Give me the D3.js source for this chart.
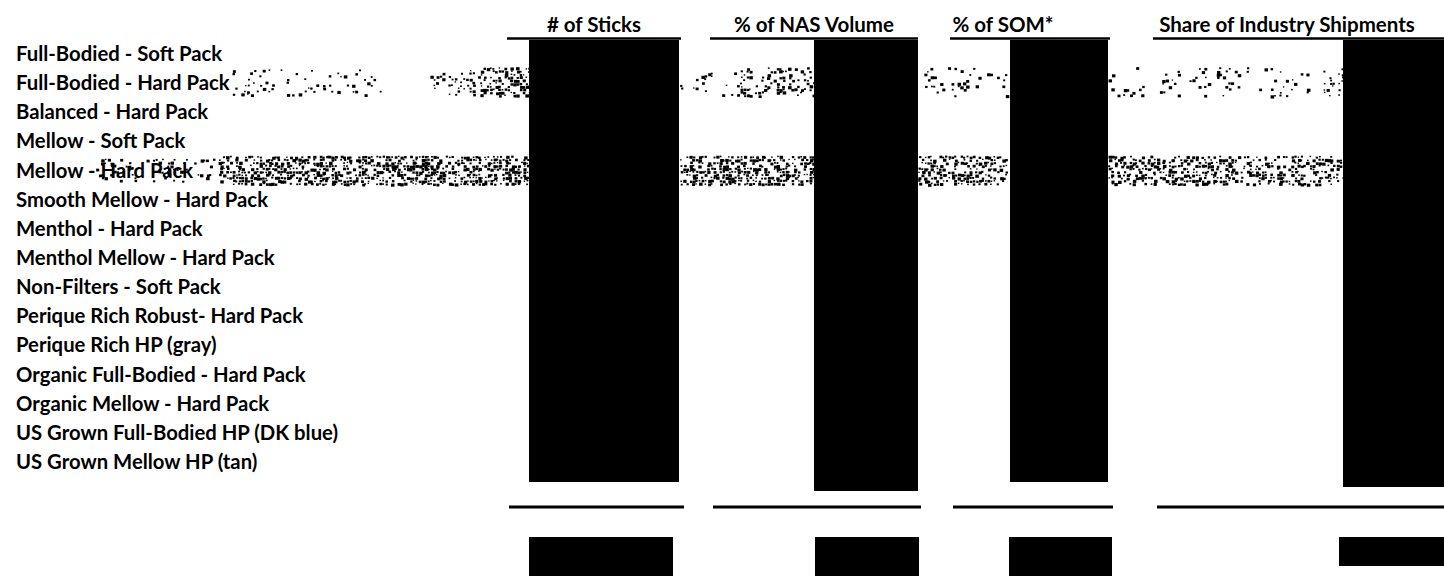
<!DOCTYPE html>
<html><head><meta charset="utf-8">
<script src="https://cdn.jsdelivr.net/npm/d3@7"></script>
<style>html,body{margin:0;padding:0;background:#fff;}svg{display:block;}</style>
</head><body>
<svg id="chart" width="1444" height="576"></svg>
<script>
// ---- data ----
const rowLabels = [
  "Full-Bodied - Soft Pack",
  "Full-Bodied - Hard Pack",
  "Balanced - Hard Pack",
  "Mellow - Soft Pack",
  "Mellow - Hard Pack",
  "Smooth Mellow - Hard Pack",
  "Menthol - Hard Pack",
  "Menthol Mellow - Hard Pack",
  "Non-Filters - Soft Pack",
  "Perique Rich Robust- Hard Pack",
  "Perique Rich HP (gray)",
  "Organic Full-Bodied - Hard Pack",
  "Organic Mellow - Hard Pack",
  "US Grown Full-Bodied HP (DK blue)",
  "US Grown Mellow HP (tan)"
];
const columnHeaders = ["# of Sticks", "% of NAS Volume", "% of SOM*", "Share of Industry Shipments"];
// rows whose scan carries speckle noise across the page
const noisyRows = ["Full-Bodied - Hard Pack", "Mellow - Hard Pack"];

// ---- layout (not data) ----
const colLayout = [
  {head: 594, line: [507, 681], box: [529, 679], boxBottom: 482, lineB: [509, 684], box2: [529, 673], box2Bottom: 576},
  {head: 814, line: [710, 918], box: [814, 918], boxBottom: 491, lineB: [713, 921], box2: [815, 919], box2Bottom: 576},
  {head: 1003, line: [950, 1110], box: [1010, 1108], boxBottom: 482, lineB: [953, 1113], box2: [1009, 1112], box2Bottom: 576},
  {head: 1287, line: [1153, 1444], box: [1343, 1444], boxBottom: 487, lineB: [1157, 1444], box2: [1339, 1444], box2Bottom: 566}
];
// scan-noise segments relative to row centre: [x0, x1, dyTop, dyBottom, density]
const noiseLayout = {
  "Full-Bodied - Hard Pack": [[232,390,-14,11,0.12],[430,480,-14,11,0.2],[480,529,-16,12,0.55],
    [680,740,-14,11,0.12],[740,814,-16,12,0.35],[918,1008,-16,12,0.12],[1108,1320,-16,12,0.12],[1320,1343,-16,12,0.28]],
  "Mellow - Hard Pack": [[95,220,-12,12,0.22],[220,529,-15,15,0.62],[680,814,-15,15,0.62],
    [918,1008,-15,15,0.55],[1108,1343,-15,15,0.5]]
};

const svg = d3.select("#chart");
const y = d3.scalePoint().domain(rowLabels).range([54, 462]);
const font = "Lato, 'Open Sans', sans-serif";

// deterministic texture hash (visual texture only, not data)
const hash = (i, j) => { const s = Math.sin(i * 12.9898 + j * 78.233) * 43758.5453; return s - Math.floor(s); };

// row labels
svg.append("g").selectAll("text").data(rowLabels).join("text")
  .attr("x", 16).attr("y", d => y(d) + 7)
  .attr("font-family", font)
  .attr("font-weight", 700).attr("font-size", 20.3)
  .attr("fill", "#000")
  .text(d => d);

// scan noise
noisyRows.forEach((r, ri) => {
  const specks = [];
  noiseLayout[r].forEach((seg, si) => {
    const [x0, x1, t, b, dens] = seg;
    for (let xx = x0; xx < x1; xx += 3) {
      for (let yy = y(r) + t; yy < y(r) + b; yy += 3) {
        const h = hash(xx + ri * 1000, yy + si * 50);
        if (h < dens) specks.push([xx + hash(yy, xx) * 1.2, yy + hash(xx, yy + 7) * 1.2, 1.4 + hash(xx + 3, yy) * 2.2]);
      }
    }
  });
  svg.append("g").selectAll("rect").data(specks).join("rect")
    .attr("x", d => d[0]).attr("y", d => d[1])
    .attr("width", d => d[2]).attr("height", d => d[2] * 0.9)
    .attr("fill", "#000");
});

// column headers
const cols = columnHeaders.map((h, i) => Object.assign({label: h}, colLayout[i]));
svg.append("g").selectAll("text").data(cols).join("text")
  .attr("x", d => d.head).attr("y", 32)
  .attr("text-anchor", "middle")
  .attr("font-family", font)
  .attr("font-weight", 700).attr("font-size", 20.5)
  .attr("fill", "#000")
  .text(d => d.label);

// header rules
svg.append("g").selectAll("line").data(cols).join("line")
  .attr("x1", d => d.line[0]).attr("x2", d => d.line[1])
  .attr("y1", 38.5).attr("y2", 38.5)
  .attr("stroke", "#000").attr("stroke-width", 2.5);

// bottom rules
svg.append("g").selectAll("line").data(cols).join("line")
  .attr("x1", d => d.lineB[0]).attr("x2", d => d.lineB[1])
  .attr("y1", 507).attr("y2", 507)
  .attr("stroke", "#000").attr("stroke-width", 3);

// redaction boxes
svg.append("g").selectAll("rect").data(cols).join("rect")
  .attr("x", d => d.box[0]).attr("width", d => d.box[1] - d.box[0])
  .attr("y", 40).attr("height", d => d.boxBottom - 40)
  .attr("fill", "#000");
svg.append("g").selectAll("rect").data(cols).join("rect")
  .attr("x", d => d.box2[0]).attr("width", d => d.box2[1] - d.box2[0])
  .attr("y", 537).attr("height", d => d.box2Bottom - 537)
  .attr("fill", "#000");
</script>
</body></html>
